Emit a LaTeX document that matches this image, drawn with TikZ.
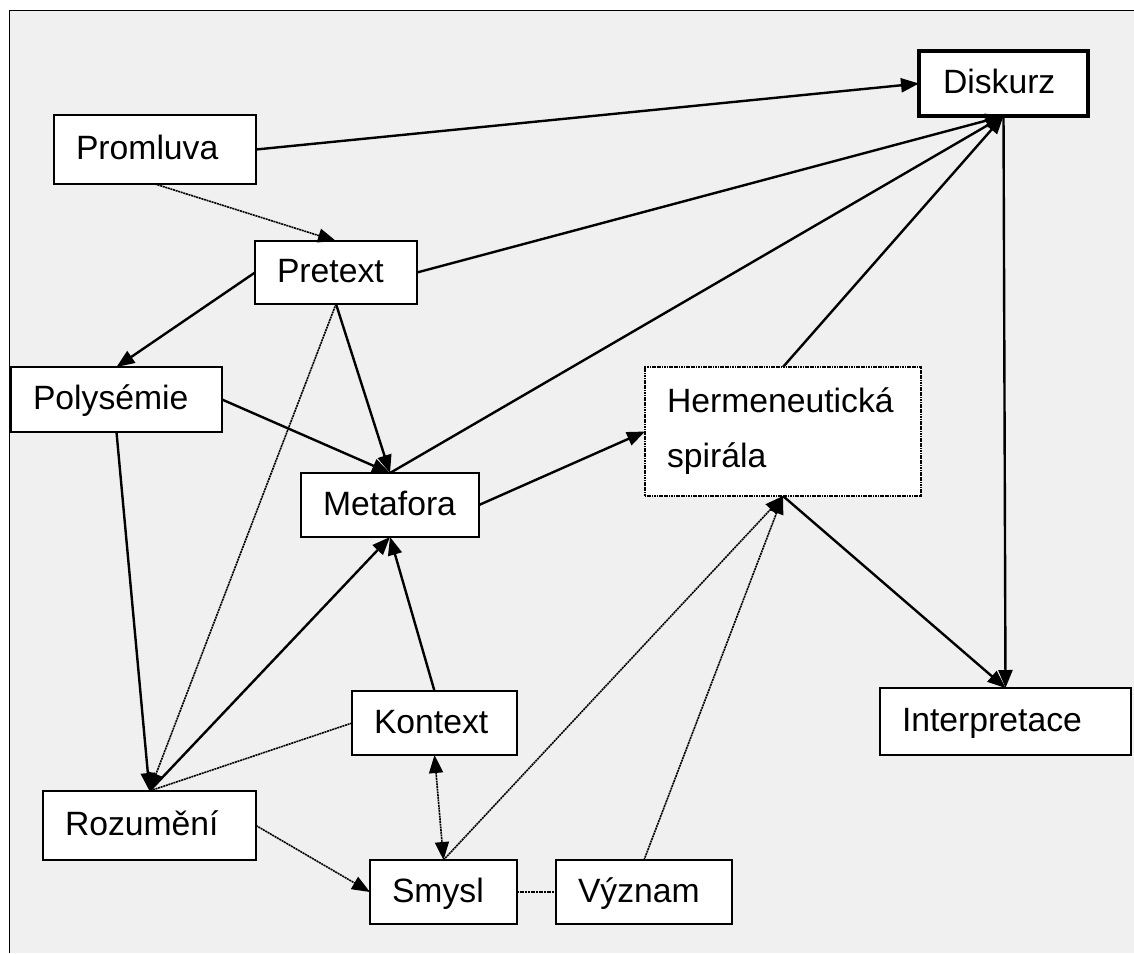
\documentclass[tikz,border=0pt]{standalone}
\usepackage{fontspec}
\setmainfont{Liberation Sans}
\usetikzlibrary{arrows.meta}
\definecolor{panel}{HTML}{F0F0F0}
\begin{document}
\begin{tikzpicture}[x=1pt,y=-1pt,
  box/.style={draw, line width=1.8pt, fill=white, outer sep=0pt,
    inner xsep=22pt, inner ysep=0pt, align=left, anchor=north west,
    font=\fontsize{33.7}{55}\selectfont},
  oneline/.style={text height=24pt, text depth=4pt},
  thickbox/.style={line width=3.8pt},
  dottedbox/.style={line width=1.3pt, dash pattern=on 1.2pt off 0.5pt},
  tip/.style={-{Triangle[length=18pt,width=14pt]}},
  solidarrow/.style={line width=2.4pt, tip},
  dotline/.style={line width=1.6pt, dash pattern=on 2pt off 0.7pt},
  dotarrow/.style={dotline, tip}]
  \useasboundingbox (0,0) rectangle (1134,953);
  % page and grey panel with its frame
  \fill[white] (0,0) rectangle (1134,953);
  \fill[panel] (9.5,10.5) rectangle (1134,953);
  \draw[line width=1.8pt] (9.5,953) -- (9.5,10.5) -- (1134,10.5);

  % concept boxes
  \node[box, oneline, text width=158pt, minimum height=69pt] (prom) at (54,115) {Promluva};
  \node[box, oneline, thickbox, inner xsep=24pt, text width=121pt, minimum height=65pt] (disk) at (919,51) {Diskurz};
  \node[box, oneline, text width=118pt, minimum height=63pt] (pret) at (255,241) {Pretext};
  \node[box, oneline, text width=167pt, minimum height=65pt] (poly) at (11,367) {Polysémie};
  \node[box, oneline, text width=134pt, minimum height=64pt] (meta) at (301,473) {Metafora};
  \node[box, dottedbox, text width=232pt, minimum height=129pt] (herm) at (645,367) {Hermeneutická\\spirála};
  \node[box, oneline, text width=121pt, minimum height=64pt] (kont) at (352,691) {Kontext};
  \node[box, oneline, text width=169pt, minimum height=69pt] (rozu) at (43,791) {Rozumění};
  \node[box, oneline, text width=103pt, minimum height=64pt] (smys) at (370,860) {Smysl};
  \node[box, oneline, text width=132pt, minimum height=64pt] (vyzn) at (556,860) {Význam};
  \node[box, oneline, text width=207pt, minimum height=67pt] (intp) at (880,688) {Interpretace};

  % solid relations
  \draw[solidarrow] (prom.east) -- (disk.west);
  \draw[solidarrow] (pret.east) -- (disk.south);
  \draw[solidarrow] (pret.west) -- (poly.north);
  \draw[solidarrow] (pret.south) -- (meta.north);
  \draw[solidarrow] (poly.east) -- (meta.north);
  \draw[solidarrow] (poly.south) -- (rozu.north);
  \draw[solidarrow] (meta.north) -- (disk.south);
  \draw[solidarrow] (meta.east) -- (herm.west);
  \draw[solidarrow] (herm.north) -- (disk.south);
  \draw[solidarrow] (herm.south) -- (intp.north);
  \draw[solidarrow] (disk.south) -- (intp.north);
  \draw[solidarrow] (rozu.north) -- (meta.south);
  \draw[solidarrow] (kont.north) -- (meta.south);

  % dotted relations
  \draw[dotarrow] (prom.south) -- (pret.north);
  \draw[dotarrow] (pret.south) -- (rozu.north);
  \draw[dotline] (kont.west) -- (rozu.north);
  \draw[dotline, {Triangle[length=18pt,width=14pt]}-{Triangle[length=18pt,width=14pt]}] (kont.south) -- (smys.north);
  \draw[dotarrow] (rozu.east) -- (smys.west);
  \draw[dotarrow] (smys.north) -- (herm.south);
  \draw[dotarrow] (vyzn.north) -- (herm.south);
  \draw[dotline] (smys.east) -- (vyzn.west);
\end{tikzpicture}
\end{document}
